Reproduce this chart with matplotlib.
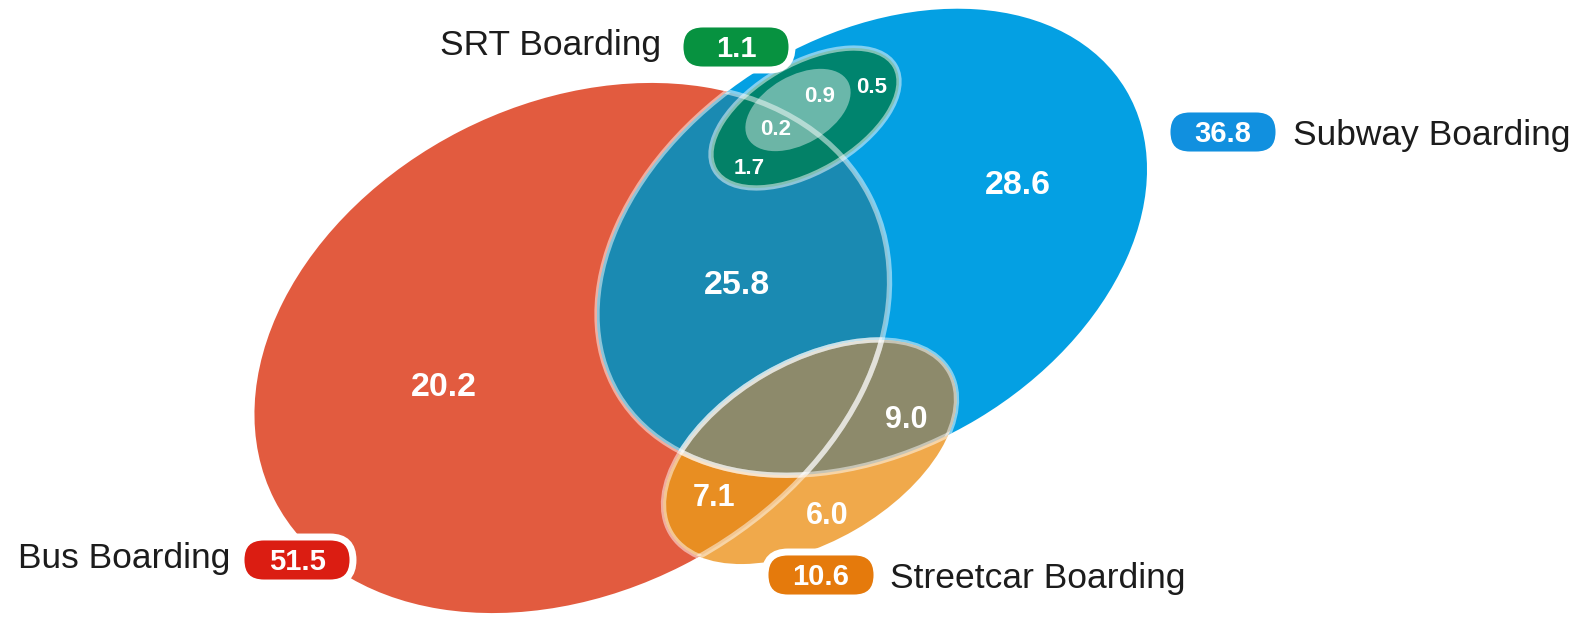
import matplotlib.pyplot as plt
from matplotlib.patches import Ellipse, FancyBboxPatch

plt.rcParams['font.family'] = ['Liberation Sans', 'DejaVu Sans']

# boardings (millions) by mode, and the overlap counts
set_names = ["Bus Boarding", "Subway Boarding", "Streetcar Boarding", "SRT Boarding"]
set_totals = [51.5, 36.8, 10.6, 1.1]
region_values = [20.2, 25.8, 28.6, 9.0, 7.1, 6.0]
srt_region_values = [0.9, 0.5, 0.2, 1.7]

# layout in pixel units (y grows downward)
W, H = 1583, 617
shapes = {
    "bus":       dict(xy=(572, 348), w=668, h=488, tilt=27),
    "subway":    dict(xy=(872, 242), w=592, h=412, tilt=31),
    "streetcar": dict(xy=(810, 452), w=322, h=180, tilt=30),
    "srt":       dict(xy=(805, 118), w=208, h=108, tilt=30),
    "srt_core":  dict(xy=(798, 110), w=115, h=68, tilt=30),
}
region_pos = [(444, 384), (737, 282), (1018, 182), (906, 417), (714, 495), (827, 513)]
region_size = [24.5, 24.5, 24.5, 22, 22, 22]
srt_pos = [(820, 94), (872, 85), (776, 127), (749, 166)]

pill_centers = [(297, 560), (1223, 132), (821, 575), (736, 47)]
pill_colors = ["#DB1D12", "#1190DF", "#E57A0C", "#079240"]
name_anchor = [(230, 568, "right"), (1293, 145, "left"), (890, 588, "left"), (661, 55, "right")]

RED, BLUE, LENS = "#E25B3F", "#04A0E3", "#1A8AB2"
SC_LIGHT, SC_DARK, SC_OLIVE = "#F0A94B", "#E88E22", "#8D8A6B"
GREEN = "#00805A"

fig = plt.figure(figsize=(W / 100, H / 100), dpi=100)
ax = fig.add_axes([0, 0, 1, 1])
ax.set_xlim(0, W)
ax.set_ylim(H, 0)
ax.axis("off")


def ellipse(key, add=True, **kw):
    s = shapes[key]
    e = Ellipse(s["xy"], s["w"], s["h"], angle=-s["tilt"], transform=ax.transData, **kw)
    if add:
        ax.add_patch(e)
    return e


def clipped(key, clip, **kw):
    e = ellipse(key, **kw)
    e.set_clip_path(clip)
    return e


def cap_half(fs):
    # half the cap height in pixels, to centre digits on a point
    return fs * 100 / 72 * 0.716 / 2


bus = ellipse("bus", fc=RED, ec="none")
subway = ellipse("subway", fc=BLUE, ec="none")
bus_clip = ellipse("bus", add=False)
sub_clip = ellipse("subway", add=False)
sc_clip = ellipse("streetcar", add=False)

# bus & subway overlap
clipped("bus", sub_clip, fc=LENS, ec="none")

# streetcar, tinted by what it sits over
ellipse("streetcar", fc=SC_LIGHT, ec="none")
clipped("streetcar", bus_clip, fc=SC_DARK, ec="none")
clipped("streetcar", sub_clip, fc=SC_OLIVE, ec="none")

# SRT
ellipse("srt", fc=GREEN, ec="none", alpha=0.85)
ellipse("srt_core", fc="white", ec="none", alpha=0.42)

# light outlines where shapes overlap
line = dict(fc="none", ec="white", lw=3.8, alpha=0.5)
clipped("subway", bus_clip, **line)
clipped("subway", sc_clip, **line)
clipped("bus", sub_clip, **line)
clipped("bus", sc_clip, **line)
clipped("streetcar", sub_clip, **line)
clipped("streetcar", bus_clip, **line)
ellipse("srt", **line)

for v, (x, y), fs in zip(region_values, region_pos, region_size):
    ax.text(x, y + cap_half(fs), f"{v:.1f}", color="white", fontsize=fs,
            fontweight="bold", ha="center", va="baseline")
for v, (x, y) in zip(srt_region_values, srt_pos):
    ax.text(x, y + cap_half(16), f"{v:.1f}", color="white", fontsize=16,
            fontweight="bold", ha="center", va="baseline")

# totals in pills, with the mode name beside them
pw, ph = 112, 46
for name, total, (cx, cy), col, (tx, ty, ha) in zip(set_names, set_totals, pill_centers,
                                                   pill_colors, name_anchor):
    pill = FancyBboxPatch((cx - pw / 2, cy - ph / 2), pw, ph,
                          boxstyle=f"round,pad=0,rounding_size={ph / 2}",
                          fc=col, ec="white", lw=5, zorder=5)
    ax.add_patch(pill)
    ax.text(cx, cy + cap_half(21), f"{total:.1f}", color="white", fontsize=21,
            fontweight="bold", ha="center", va="baseline", zorder=6)
    ax.text(tx, ty, name, color="#1c1c1c", fontsize=25.5, ha=ha, va="baseline", zorder=6)

fig.savefig("out.png", dpi=100)
